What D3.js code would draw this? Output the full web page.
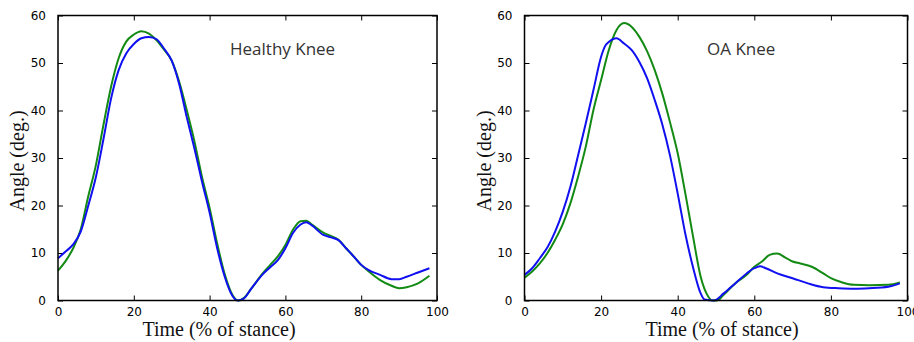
<!DOCTYPE html>
<html>
<head>
<meta charset="utf-8">
<script src="https://cdn.jsdelivr.net/npm/d3@7"></script>
<style>
  body { margin: 0; background: #fff; }
  .tick text { font-family: "DejaVu Sans", sans-serif; font-size: 12px; fill: #000; }
  .domain { display: none; }
  .tick line { stroke: #000; stroke-width: 1; }
</style>
</head>
<body>
<div id="chart"></div>
<script>
// gait knee angle curves
var healthyGreenX = [0, 2, 4, 6, 8, 10, 12, 14, 16, 18, 20, 22, 24, 26, 28, 30, 32, 34, 36, 38, 40, 42, 44, 46, 47.5, 49, 51, 54, 56, 58, 60, 62, 64, 65.5, 67, 70, 72, 74, 76, 78, 80, 82, 85, 88, 90, 92, 95, 98];
var healthyGreenY = [6.3, 8.3, 11, 15, 22, 28.5, 37, 45, 51, 54.5, 56, 56.7, 56.2, 54.8, 52.8, 50.5, 46, 40, 33.5, 26, 19.5, 12, 5.5, 1.2, 0, 0.5, 2.5, 5.7, 7.5, 9.3, 11.7, 14.9, 16.7, 16.8, 16, 14.3, 13.6, 12.8, 11, 9.3, 7.5, 6.1, 4.3, 3.1, 2.6, 2.8, 3.6, 5.2];
var healthyBlueX = [0, 2, 4, 6, 8, 10, 12, 14, 16, 18, 20, 22, 24, 26, 28, 30, 32, 34, 36, 38, 40, 42, 44, 46, 47.5, 49, 51, 54, 56, 58, 60, 62, 64, 65.5, 67, 70, 72, 74, 76, 78, 80, 82, 85, 88, 90, 92, 95, 98];
var healthyBlueY = [8.9, 10.3, 11.8, 14.5, 20, 26, 34, 42.5, 48.5, 52, 54, 55.2, 55.5, 55, 53, 50.5, 45.5, 38.5, 32, 25, 18.5, 11, 5, 1, 0, 0.4, 2.5, 5.5, 7, 8.5, 11, 14.2, 16, 16.5, 15.8, 13.8, 13.3, 12.7, 11, 9.3, 7.5, 6.4, 5.4, 4.5, 4.5, 5, 5.9, 6.8];

var oaGreenX = [0, 2, 4, 6, 8, 10, 12, 14, 16, 18, 20, 22, 24, 26, 28, 30, 32, 34, 36, 38, 40, 42, 44, 46, 48, 49, 50.2, 52, 55, 58, 60, 62, 64, 66, 68, 70, 72, 75, 78, 80, 83, 86, 90, 95, 98];
var oaGreenY = [4.8, 6.1, 7.8, 10, 12.8, 16.1, 20.5, 26.1, 32.4, 40.1, 46.4, 52.7, 56.9, 58.4, 57.6, 55.5, 52.5, 48.5, 43.5, 37.5, 31, 22.5, 13.5, 5, 0.8, 0, 0, 1.2, 3.6, 5.4, 7.1, 8.2, 9.6, 9.9, 9.1, 8.2, 7.8, 7.1, 5.7, 4.7, 3.8, 3.3, 3.2, 3.3, 3.8];
var oaBlueX = [0, 2, 4, 6, 8, 10, 12, 14, 16, 18, 20, 21, 22, 24, 26, 28, 30, 32, 34, 36, 38, 40, 42, 44, 46, 47, 49.5, 52, 55, 58, 60, 61.5, 63, 66, 70, 74, 78, 82, 86, 90, 95, 98];
var oaBlueY = [5.4, 6.8, 8.9, 11.2, 14.5, 18.7, 24, 30.6, 37.3, 44.3, 51.3, 53.5, 54.4, 55.2, 54.1, 52.7, 50.2, 46.8, 42.2, 37, 30.5, 22.5, 14, 7, 1.5, 0.2, 0, 1.5, 3.6, 5.7, 6.8, 7.2, 6.8, 5.7, 4.7, 3.6, 2.8, 2.6, 2.5, 2.6, 2.9, 3.6];

var xTicks = [0, 20, 40, 60, 80, 100];
var yTicks = [0, 10, 20, 30, 40, 50, 60];
var panelTitles = ["Healthy Knee", "OA Knee"];
var xTitle = "Time (% of stance)";
var yTitle = "Angle (deg.)";

var width = 914, height = 342;
var plotTop = 15.5, plotBottom = 300.5;

var svg = d3.select("#chart").append("svg")
  .attr("width", width).attr("height", height);

var panels = [
  { left: 58, right: 437, title: panelTitles[0], titleX: 230, xLabelX: 219, yLabelX: 18,
    green: healthyGreenX.map(function(x, i) { return [x, healthyGreenY[i]]; }),
    blue: healthyBlueX.map(function(x, i) { return [x, healthyBlueY[i]]; }) },
  { left: 524.5, right: 907.5, title: panelTitles[1], titleX: 707, xLabelX: 722, yLabelX: 485,
    green: oaGreenX.map(function(x, i) { return [x, oaGreenY[i]]; }),
    blue: oaBlueX.map(function(x, i) { return [x, oaBlueY[i]]; }) }
];

panels.forEach(function(p) {
  var x = d3.scaleLinear().domain([0, 100]).range([p.left, p.right]);
  var y = d3.scaleLinear().domain([0, 60]).range([plotBottom, plotTop]);

  var g = svg.append("g");

  g.append("g").attr("transform", "translate(0," + plotBottom + ")")
    .call(d3.axisBottom(x).tickValues(xTicks).tickSize(-5).tickPadding(7));
  g.append("g").attr("transform", "translate(0," + plotTop + ")")
    .call(d3.axisTop(x).tickValues(xTicks).tickSize(-5).tickFormat(""));
  g.append("g").attr("transform", "translate(" + p.left + ",0)")
    .call(d3.axisLeft(y).tickValues(yTicks).tickSize(-5).tickPadding(12));
  g.append("g").attr("transform", "translate(" + p.right + ",0)")
    .call(d3.axisRight(y).tickValues(yTicks).tickSize(-5).tickFormat(""));

  var line = d3.line()
    .curve(d3.curveMonotoneX)
    .x(function(d) { return x(d[0]); })
    .y(function(d) { return y(d[1]); });

  g.append("path").datum(p.green)
    .attr("d", line).attr("fill", "none")
    .attr("stroke", "#138a13").attr("stroke-width", 2);
  g.append("path").datum(p.blue)
    .attr("d", line).attr("fill", "none")
    .attr("stroke", "#1010f0").attr("stroke-width", 2);

  g.append("rect")
    .attr("x", p.left).attr("y", plotTop)
    .attr("width", p.right - p.left).attr("height", plotBottom - plotTop)
    .attr("fill", "none").attr("stroke", "#000").attr("stroke-width", 1.5);

  g.append("text")
    .attr("x", p.titleX).attr("y", 55)
    .attr("font-family", "'Open Sans', sans-serif").attr("font-size", 17)
    .attr("fill", "#333")
    .text(p.title);

  g.append("text")
    .attr("x", p.xLabelX).attr("y", 336)
    .attr("text-anchor", "middle")
    .attr("font-family", "'Liberation Serif', serif").attr("font-size", 20)
    .attr("fill", "#111")
    .text(xTitle);

  g.append("text")
    .attr("transform", "translate(" + (p.yLabelX + 6) + ",161) rotate(-90)")
    .attr("text-anchor", "middle")
    .attr("font-family", "'Liberation Serif', serif").attr("font-size", 20)
    .attr("fill", "#111")
    .text(yTitle);
});
</script>
</body>
</html>
